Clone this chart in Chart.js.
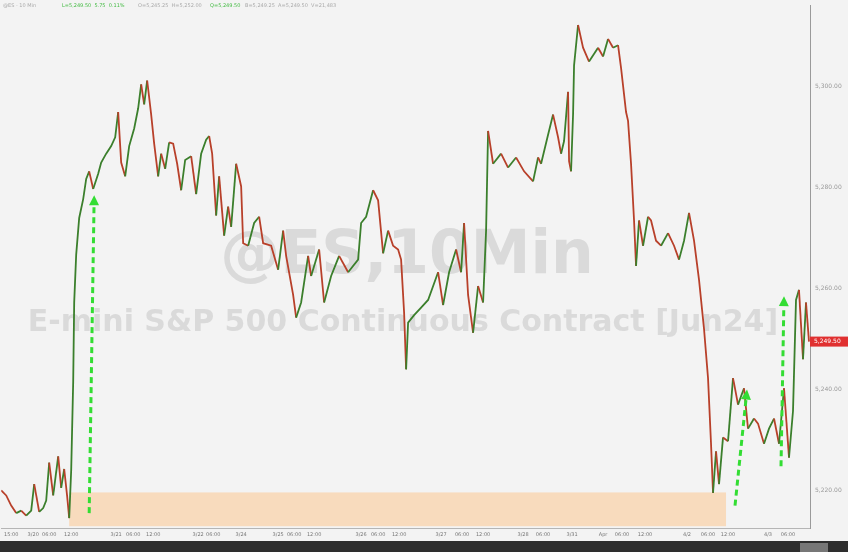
<!DOCTYPE html>
<html>
<head>
<meta charset="utf-8">
<script src="https://cdn.jsdelivr.net/npm/chart.js@4"></script>
<style>
  html, body { margin: 0; padding: 0; background: #f3f3f3; }
  #wrap { width: 848px; height: 552px; position: relative; }
</style>
</head>
<body>
<div id="wrap"><canvas id="chart"></canvas></div>
<script>
"use strict";

// ES 10-min bars, sampled (bar slot -> last price)
const BARS = [0, 5, 10, 15, 20, 25, 30, 33, 38, 42, 45, 48, 52, 57, 60, 63, 66, 68, 70, 72, 73, 75, 78, 82, 85, 88, 92, 97,
  100, 105, 110, 114, 117, 120, 124, 128, 133, 137, 140, 143, 146, 150, 153, 157, 160, 164, 168, 172, 176, 180, 184, 190, 195,
  200, 205, 208, 211, 215, 218, 223, 227, 230, 235, 240, 242, 247, 253, 258, 262, 270, 277, 282, 285, 292, 295,
  300, 307, 310, 318, 323, 330, 338, 347, 357, 360, 365, 372, 377, 382, 387, 392, 397,
  400, 403, 405, 407, 413, 420, 427, 437, 442, 448, 455, 460, 463, 467, 472, 477, 482, 485, 487, 492,
  500, 507, 515, 523, 532, 537, 540, 547, 552, 557, 560, 563, 567, 568, 570, 572, 573, 577, 582, 588, 597,
  602, 607, 612, 617, 620, 625, 627, 630, 633, 635, 638, 642, 647, 650, 655, 660, 667, 673, 678, 683, 688, 693, 698,
  703, 707, 710, 712, 715, 718, 722, 727, 732, 737, 743, 747, 753, 757, 763, 768, 773, 778, 783, 788, 792, 795, 798,
  802, 805, 808];
const PRICES = [5220.00, 5219.00, 5217.00, 5215.50, 5216.00, 5215.00, 5216.00, 5221.25, 5215.75, 5216.50, 5218.00, 5225.50,
  5219.00, 5226.75, 5220.50, 5224.25, 5218.75, 5214.50, 5224.00, 5241.50, 5257.25, 5266.75, 5274.00, 5277.75, 5281.75,
  5283.25, 5279.75, 5282.75, 5285.00, 5286.75, 5288.25, 5290.00, 5295.00, 5285.00, 5282.25, 5288.25, 5291.75, 5295.75,
  5300.50, 5296.50, 5301.25, 5294.50, 5288.75, 5282.25, 5286.75, 5283.75, 5289.00, 5288.75, 5284.75, 5279.50, 5285.50,
  5286.25, 5278.75, 5286.75, 5289.50, 5290.25, 5286.75, 5274.50, 5282.25, 5270.50, 5276.25, 5272.25, 5284.75, 5280.25,
  5269.00, 5268.50, 5273.00, 5274.25, 5269.00, 5268.50, 5263.75, 5271.50, 5266.50, 5258.75, 5254.25, 5257.25, 5266.50,
  5262.50, 5267.75, 5257.25, 5262.50, 5266.50, 5263.25, 5265.75, 5273.00, 5274.25, 5279.50, 5277.50, 5267.00, 5271.50,
  5268.50, 5267.75, 5265.75, 5255.25, 5244.00, 5253.25, 5254.75, 5256.25, 5257.75, 5263.25, 5256.75, 5263.25, 5267.75,
  5263.25, 5273.00, 5258.75, 5251.25, 5260.50, 5257.25, 5271.50, 5291.25, 5284.75, 5286.75, 5284.00, 5286.00, 5283.25,
  5281.25, 5286.00, 5284.75, 5290.50, 5294.50, 5290.00, 5286.75, 5289.25, 5299.00, 5285.25, 5283.25, 5294.50, 5304.25,
  5312.25, 5307.75, 5305.00, 5307.75, 5306.00, 5309.50, 5307.75, 5308.25, 5303.75, 5295.00, 5293.25, 5284.75, 5273.50,
  5264.50, 5273.50, 5268.50, 5274.25, 5273.50, 5269.50, 5268.50, 5271.00, 5268.50, 5265.75, 5269.50, 5275.00, 5269.50,
  5261.75, 5252.00, 5242.25, 5229.25, 5219.50, 5227.75, 5221.25, 5230.50, 5229.75, 5242.25, 5237.00, 5240.25, 5232.25,
  5234.25, 5233.25, 5229.25, 5232.25, 5234.25, 5229.25, 5240.25, 5226.50, 5235.75, 5257.75, 5259.75, 5246.00, 5257.25,
  5249.50];

// axes
const TICK_POS = [10, 32, 48, 70, 115, 132, 152, 197, 212, 240, 277, 293, 313, 360, 377, 398,
  440, 461, 482, 522, 542, 571, 602, 621, 644, 686, 707, 727, 767, 787];
const TICK_TEXT = ["15:00", "3/20", "06:00", "12:00", "3/21", "06:00", "12:00", "3/22", "06:00", "3/24", "3/25", "06:00", "12:00",
  "3/26", "06:00", "12:00", "3/27", "06:00", "12:00", "3/28", "06:00", "3/31", "Apr", "06:00", "12:00", "4/2", "06:00", "12:00",
  "4/3", "06:00"];
const Y_TICKS = [5220, 5240, 5260, 5280, 5300];

// annotations (in bar / price units)
const BOX_BARS = [68, 725];
const BOX_PRICES = [5212.9, 5219.6];
const ARROW_FROM = [[88, 5215.5], [734, 5217.0], [780, 5224.8]];
const ARROW_TO = [[93, 5278.5], [746, 5240.0], [783, 5258.5]];

const GREEN = "#3b7f2c";
const RED = "#b8402a";
const fmt = (v) => v.toLocaleString("en-US", { minimumFractionDigits: 2, maximumFractionDigits: 2 });

const decor = {
  id: "decor",
  beforeDraw(chart) {
    const { ctx } = chart;
    ctx.save();
    ctx.fillStyle = "#f3f3f3";
    ctx.fillRect(0, 0, chart.width, chart.height);
    ctx.restore();
  },
  beforeDatasetsDraw(chart) {
    const { ctx, scales: { x, y } } = chart;
    ctx.save();
    // orange "pre-FOMC" box
    ctx.fillStyle = "#f8dbbd";
    const x0 = x.getPixelForValue(BOX_BARS[0]), x1 = x.getPixelForValue(BOX_BARS[1]);
    const y0 = y.getPixelForValue(BOX_PRICES[1]), y1 = y.getPixelForValue(BOX_PRICES[0]);
    ctx.fillRect(x0, y0, x1 - x0, y1 - y0);
    // watermarks
    ctx.fillStyle = "#dadada";
    ctx.textAlign = "center";
    ctx.textBaseline = "alphabetic";
    ctx.font = "bold 60px 'DejaVu Sans', sans-serif";
    ctx.fillText("@ES,10Min", 407, 273);
    ctx.font = "bold 30px 'DejaVu Sans', sans-serif";
    ctx.fillText("E-mini S&P 500 Continuous Contract [Jun24]", 403, 331);
    ctx.restore();
  },
  afterDatasetsDraw(chart) {
    const { ctx, scales: { x, y } } = chart;
    ctx.save();
    ctx.strokeStyle = "#33dd33";
    ctx.fillStyle = "#33dd33";
    ctx.lineWidth = 3;
    ARROW_FROM.forEach((f, i) => {
      const t = ARROW_TO[i];
      const ax = x.getPixelForValue(f[0]), ay = y.getPixelForValue(f[1]);
      const bx = x.getPixelForValue(t[0]), by = y.getPixelForValue(t[1]);
      const ang = Math.atan2(by - ay, bx - ax);
      const hx = bx - Math.cos(ang) * 10, hy = by - Math.sin(ang) * 10;
      ctx.setLineDash([6, 4]);
      ctx.beginPath(); ctx.moveTo(ax, ay); ctx.lineTo(hx, hy); ctx.stroke();
      ctx.setLineDash([]);
      ctx.beginPath();
      ctx.moveTo(bx, by);
      ctx.lineTo(hx + Math.cos(ang + Math.PI / 2) * 5, hy + Math.sin(ang + Math.PI / 2) * 5);
      ctx.lineTo(hx + Math.cos(ang - Math.PI / 2) * 5, hy + Math.sin(ang - Math.PI / 2) * 5);
      ctx.closePath(); ctx.fill();
    });
    ctx.restore();
  },
  afterDraw(chart) {
    const { ctx, chartArea: a, scales: { y } } = chart;
    ctx.save();
    // last price tag
    const last = PRICES[PRICES.length - 1];
    const py = y.getPixelForValue(last);
    ctx.fillStyle = "#e03030";
    ctx.fillRect(a.right, py - 5, chart.width - a.right, 10);
    ctx.fillStyle = "#ffffff";
    ctx.font = "6px 'DejaVu Sans', sans-serif";
    ctx.textBaseline = "middle";
    ctx.fillText(fmt(last), a.right + 4, py);
    // header line
    ctx.textBaseline = "top";
    ctx.font = "5px 'DejaVu Sans', sans-serif";
    ctx.fillStyle = "#aaaaaa";
    ctx.fillText("@ES - 10 Min", 3, 3);
    ctx.fillStyle = "#44bb44";
    ctx.fillText("L=5,249.50  5.75  0.11%", 62, 3);
    ctx.fillStyle = "#aaaaaa";
    ctx.fillText("O=5,245.25  H=5,252.00", 138, 3);
    ctx.fillStyle = "#44bb44";
    ctx.fillText("Q=5,249.50", 210, 3);
    ctx.fillStyle = "#aaaaaa";
    ctx.fillText("B=5,249.25  A=5,249.50  V=21,483", 245, 3);
    // bottom bar
    ctx.fillStyle = "#2e2e2e";
    ctx.fillRect(0, chart.height - 11, chart.width, 11);
    ctx.fillStyle = "#777777";
    ctx.fillRect(800, chart.height - 9, 28, 9);
    ctx.restore();
  },
};

new Chart(document.getElementById("chart"), {
  type: "line",
  data: {
    datasets: [{
      data: BARS.map((b, i) => ({ x: b, y: PRICES[i] })),
      borderWidth: 1.8,
      pointRadius: 0,
      tension: 0,
      borderColor: RED,
      segment: { borderColor: (c) => (c.p1.parsed.y >= c.p0.parsed.y ? GREEN : RED) },
    }],
  },
  options: {
    responsive: true,
    maintainAspectRatio: false,
    animation: false,
    layout: { padding: { left: 0, right: 0, top: 0, bottom: 11 } },
    plugins: { legend: { display: false }, tooltip: { enabled: false } },
    scales: {
      x: {
        type: "linear",
        min: 0,
        max: 809,
        afterFit: (s) => { s.height = 13; },
        afterBuildTicks: (s) => { s.ticks = TICK_POS.map((v) => ({ value: v })); },
        grid: { display: false, drawTicks: false },
        border: { display: true, color: "#b5b5b5" },
        ticks: {
          autoSkip: false, maxRotation: 0, padding: 4, color: "#777777",
          font: { size: 5, family: "DejaVu Sans" },
          callback: (v, i) => TICK_TEXT[i],
        },
      },
      y: {
        position: "right",
        min: 5212.55,
        max: 5316.1,
        afterFit: (s) => { s.width = 38; },
        afterBuildTicks: (s) => { s.ticks = Y_TICKS.map((v) => ({ value: v })); },
        grid: { display: false, drawTicks: true, tickLength: 3, tickColor: "#b5b5b5" },
        border: { display: true, color: "#9a9a9a" },
        ticks: {
          padding: 2, color: "#9a9a9a",
          font: { size: 6, family: "DejaVu Sans" },
          callback: (v) => fmt(v),
        },
      },
    },
  },
  plugins: [decor],
});
</script>
</body>
</html>
